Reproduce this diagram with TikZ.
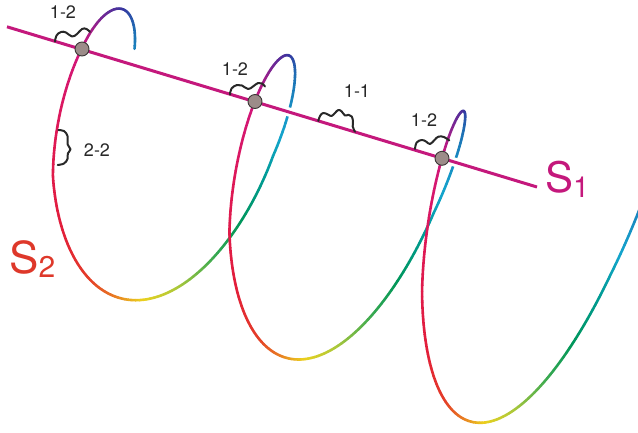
\documentclass[tikz,border=0pt]{standalone}
\usepackage{fontspec}
\setmainfont{TeX Gyre Heros}
\usetikzlibrary{calc}
\definecolor{cM}{RGB}{208,22,126}
\definecolor{cCr}{RGB}{222,24,88}
\definecolor{cR}{RGB}{226,30,58}
\definecolor{cRO}{RGB}{228,62,40}
\definecolor{cO}{RGB}{232,122,35}
\definecolor{cY}{RGB}{235,210,30}
\definecolor{cYG}{RGB}{170,200,60}
\definecolor{cG}{RGB}{60,170,80}
\definecolor{cDG}{RGB}{0,150,90}
\definecolor{cT}{RGB}{0,155,150}
\definecolor{cC}{RGB}{20,165,205}
\definecolor{cB}{RGB}{30,110,180}
\definecolor{cI}{RGB}{55,55,160}
\definecolor{cP}{RGB}{110,40,150}
\definecolor{sonecol}{RGB}{196,24,124}
\definecolor{stwocol}{RGB}{222,56,42}
\definecolor{dotfill}{RGB}{156,140,137}
\definecolor{dotdraw}{RGB}{60,55,55}
\definecolor{inkcol}{RGB}{40,40,40}
\newcommand{\helixpart}[1]{%
  \foreach \ua/\ub/\ca/\cb/\n in {#1}{%
    \foreach \k in {-1,0,1,2}{%
      \foreach \j in {1,...,\n}{%
        \pgfmathsetmacro{\sa}{\k+\ua+(\ub-\ua)*(\j-1)/\n}%
        \pgfmathsetmacro{\sb}{\k+\ua+(\ub-\ua)*\j/\n}%
        \pgfmathsetmacro{\pc}{100*(\j-0.5)/\n}%
        \pgfmathtruncatemacro{\ok}{(\sa>-0.262)&&(\sa<2.8)}%
        \ifnum\ok=1
          \draw[helix, color=\cb!\pc!\ca] ({hx(\sa)},{hy(\sa)}) -- ({hx(\sb)},{hy(\sb)});
        \fi
      }%
    }%
  }%
}
\begin{document}
\begin{tikzpicture}[x=1pt,y=-1pt,
  declare function={
    hx(\q)=101.8+153.9*\q+8.1*\q*\q+30*min(\q,0)+(79.5-9*\q)*cos(360*(\q+0.29-0.02*\q))+(11-3*\q)*max(0,sin(360*(\q-0.155)));
    hy(\q)=144.2+53*\q+2*\q*\q-(134.4+2.75*\q+40*min(\q,0))*cos(360*(\q-0.877));
  },
  helix/.style={line width=2.6pt, line cap=round},
  sline/.style={line width=3pt, sonecol},
  halo/.style={line width=9pt, white},
  dotnode/.style={circle, minimum size=14pt, inner sep=0pt, fill=dotfill, draw=dotdraw, line width=0.9pt},
  wiggle/.style={line width=2pt, inkcol, line cap=round, line join=round},
  lbl/.style={inkcol, font=\fontsize{18}{21}\selectfont, inner sep=0pt},
  biglbl/.style={inner sep=0pt, anchor=base west}
]
\useasboundingbox (0,0) rectangle (638,432);
\clip (0,0) rectangle (638,432);

% back part of the helix (rising side)
\helixpart{0.40/0.46/cY/cYG/10, 0.46/0.52/cYG/cG/10, 0.52/0.57/cG/cDG/8, 0.57/0.63/cDG/cT/10, 0.63/0.68/cT/cC/8, 0.68/0.78/cC/cB/16, 0.78/0.86/cB/cI/13, 0.86/0.93/cI/cP/12, 0.93/1.00/cP/cM/12}

% strand S1
\coordinate (s1a) at (7,26.8);
\coordinate (s1b) at (537,187);
\draw[halo] (s1a) -- (s1b);
\draw[sline] (s1a) -- (s1b);

% front part of the helix (descending side)
\helixpart{0.00/0.10/cM/cCr/16, 0.10/0.22/cCr/cR/20, 0.22/0.30/cR/cRO/13, 0.30/0.35/cRO/cO/8, 0.35/0.40/cO/cY/8}

% wiggles
\draw[wiggle] plot[smooth, tension=0.7] coordinates {(55,41.5) (56.5,35.5) (61,32) (66,32.5) (72,36.5) (77,34) (82,29) (86.5,29) (90,32)};
\draw[wiggle] plot[smooth, tension=0.7] coordinates {(230,94.5) (231.5,88.5) (237,85) (242,85.5) (248,89) (253,86.5) (258,83) (262,83.5) (265,86.5)};
\draw[wiggle] plot[smooth, tension=0.7] coordinates {(318.3,121) (320,116) (323.3,113) (328,114.5) (331.5,116) (335,113) (338.3,110) (341.7,111.5) (345,115.5) (348.5,114.8) (351.7,116.5) (353,121.5) (352.7,126.5) (355,131.7)};
\draw[wiggle] plot[smooth, tension=0.7] coordinates {(415,149) (416.7,142.5) (421.7,140) (426,141.5) (430,144) (434.5,140) (438.3,136.7) (444,137) (449.3,140.5)};
\draw[wiggle] plot[smooth, tension=0.6] coordinates {(58.3,130) (64,131) (67.5,136) (67.7,144.5) (70.5,149.3) (67.8,153.5) (67.5,159) (64,163.5) (57.7,165)};

% crossing points
\node[dotnode] (d1) at (82,49) {};
\node[dotnode] (d2) at (255,101.5) {};
\node[dotnode] (d3) at (442,158.3) {};

% labels
\node[lbl] (l1) at (63,12) {1-2};
\node[lbl] (l2) at (235,69) {1-2};
\node[lbl] (l3) at (357,91) {1-1};
\node[lbl] (l4) at (424,120) {1-2};
\node[lbl] (l5) at (97,150) {2-2};
\node[biglbl, sonecol] (S1) at (545,192) {\fontsize{42}{42}\selectfont S\raisebox{-5pt}{\fontsize{29}{29}\selectfont 1}};
\node[biglbl, stwocol] (S2) at (9,273) {\fontsize{44}{44}\selectfont S\raisebox{-4pt}{\fontsize{30}{30}\selectfont 2}};
\end{tikzpicture}
\end{document}
